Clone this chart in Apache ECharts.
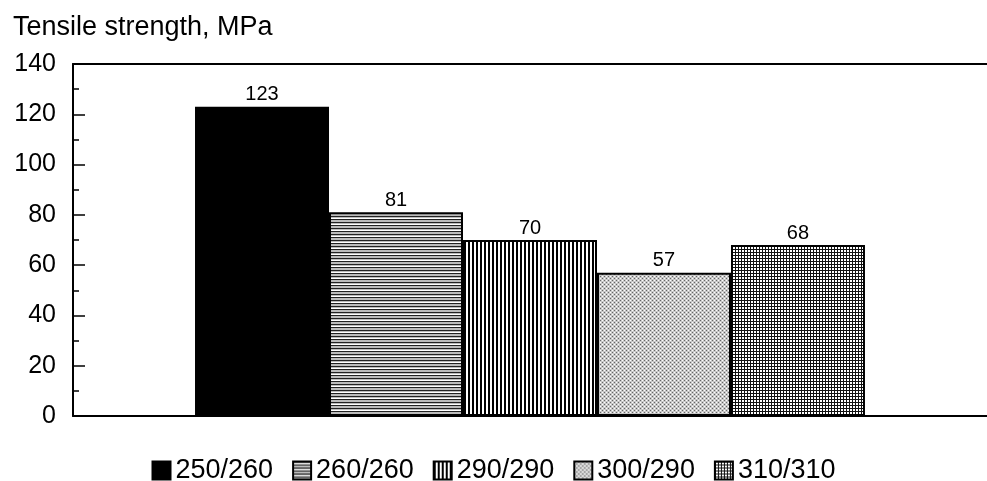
<!DOCTYPE html>
<html>
<head>
<meta charset="utf-8">
<script src="https://cdn.jsdelivr.net/npm/echarts@6/dist/echarts.min.js"></script>
<style>
  html, body { margin: 0; padding: 0; background: #fff; }
  #chart { width: 987px; height: 481px; }
</style>
</head>
<body>
<div id="chart"></div>
<script>
// Data
const categories = ['']
const seriesNames = ['250/260', '260/260', '290/290', '300/290', '310/310']
const seriesValues = [123, 81, 70, 57, 68]
const yTicks = [0, 20, 40, 60, 80, 100, 120, 140]

// Build small tiled pattern canvases for the hatched fills
function makePattern(size, draw) {
  const c = document.createElement('canvas')
  c.width = size
  c.height = size
  const ctx = c.getContext('2d')
  ctx.fillStyle = '#fff'
  ctx.fillRect(0, 0, size, size)
  draw(ctx)
  return { image: c, repeat: 'repeat' }
}

const fills = [
  '#000',
  // horizontal lines
  makePattern(6, (ctx) => {
    ctx.fillStyle = '#bbb'
    ctx.fillRect(0, 0, 6, 6)
    ctx.fillStyle = '#222'
    ctx.fillRect(0, 0, 6, 1)
    ctx.fillRect(0, 3, 6, 1)
    ctx.fillStyle = '#fff'
    ctx.fillRect(0, 2, 6, 1)
  }),
  // vertical lines
  makePattern(4, (ctx) => {
    ctx.fillStyle = '#000'
    ctx.fillRect(0, 0, 2, 4)
  }),
  // fine stipple
  makePattern(4, (ctx) => {
    ctx.fillStyle = '#c8c8c8'
    ctx.fillRect(0, 0, 4, 4)
    ctx.fillStyle = '#666'
    ctx.fillRect(0, 0, 1, 1)
    ctx.fillRect(2, 2, 1, 1)
    ctx.fillStyle = '#fff'
    ctx.fillRect(2, 0, 1, 1)
    ctx.fillRect(0, 2, 1, 1)
  }),
  // cross hatch grid
  makePattern(3, (ctx) => {
    ctx.fillStyle = '#111'
    ctx.fillRect(0, 0, 3, 1)
    ctx.fillRect(0, 0, 1, 3)
  }),
]

const chart = echarts.init(document.getElementById('chart'), null, { renderer: 'canvas' })

const font = 'Liberation Sans, Arial, Helvetica, sans-serif'

chart.setOption({
  backgroundColor: '#fff',
  animation: false,
  textStyle: { fontFamily: font, color: '#000' },
  title: {
    text: 'Tensile strength, MPa',
    left: 8,
    top: 9,
    textStyle: { fontFamily: font, fontSize: 27, fontWeight: 'normal', color: '#000' },
  },
  legend: {
    data: seriesNames,
    icon: 'rect',
    top: 452,
    left: 'center',
    itemWidth: 18,
    itemHeight: 18,
    itemGap: 19,
    textStyle: { fontFamily: font, fontSize: 27, color: '#000' },
  },
  grid: {
    left: 73,
    right: 0,
    top: 64,
    bottom: 65,
  },
  xAxis: [
    {
      type: 'category',
      data: categories,
      position: 'bottom',
      axisLine: { lineStyle: { color: '#000', width: 2 } },
      axisTick: { show: false },
      axisLabel: { show: false },
    },
    {
      type: 'category',
      data: categories,
      position: 'top',
      axisLine: { onZero: false, lineStyle: { color: '#000', width: 2 } },
      axisTick: { show: false },
      axisLabel: { show: false },
    },
  ],
  yAxis: {
    type: 'value',
    min: yTicks[0],
    max: yTicks[yTicks.length - 1],
    interval: 20,
    axisLine: { show: true, lineStyle: { color: '#000', width: 2 } },
    axisTick: { show: true, inside: true, length: 12, lineStyle: { color: '#000', width: 1.5 } },
    minorTick: { show: true, splitNumber: 2, length: 6, lineStyle: { color: '#000', width: 1.5 } },
    splitLine: { show: false },
    axisLabel: { fontFamily: font, fontSize: 25, color: '#000', margin: 17, padding: [8, 0, 0, 0] },
  },
  series: seriesNames.map((name, i) => ({
    name,
    type: 'bar',
    data: [seriesValues[i]],
    barGap: '0%',
    barCategoryGap: '26.7%',
    itemStyle: {
      color: fills[i],
      borderColor: '#000',
      borderWidth: 2,
    },
    label: {
      show: true,
      position: 'top',
      distance: 2,
      fontFamily: font,
      fontSize: 20,
      color: '#000',
    },
  })),
})
</script>
</body>
</html>
